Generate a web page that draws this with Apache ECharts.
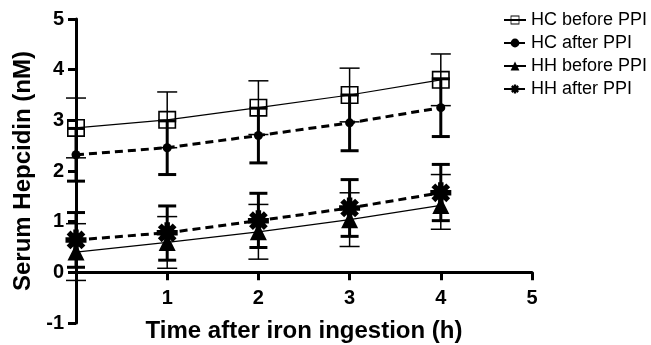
<!DOCTYPE html>
<html>
<head>
<meta charset="utf-8">
<script src="https://cdn.jsdelivr.net/npm/echarts@6/dist/echarts.min.js"></script>
<style>
  html, body { margin: 0; padding: 0; background: #fff; }
  #chart { width: 651px; height: 345px; }
</style>
</head>
<body>
<div id="chart"></div>
<script>
// Time points (h)
const times = [0, 1, 2, 3, 4];

// Serum hepcidin (nM): mean and error bar ends
const hcBefore = [2.85, 3.01, 3.25, 3.50, 3.80];
const hcBeforeLow = [2.26, 2.46, 2.72, 2.97, 3.29];
const hcBeforeHigh = [3.44, 3.56, 3.78, 4.03, 4.31];

const hcAfter = [2.32, 2.46, 2.70, 2.95, 3.25];
const hcAfterLow = [1.80, 1.93, 2.16, 2.40, 2.68];
const hcAfterHigh = [2.84, 2.99, 3.24, 3.50, 3.82];

const hhBefore = [0.40, 0.59, 0.80, 1.04, 1.32];
const hhBeforeLow = [-0.16, 0.08, 0.26, 0.51, 0.85];
const hhBeforeHigh = [0.96, 1.10, 1.34, 1.57, 1.93];

const hhAfter = [0.64, 0.78, 1.02, 1.27, 1.57];
const hhAfterLow = [0.10, 0.24, 0.49, 0.71, 1.02];
const hhAfterHigh = [1.18, 1.31, 1.56, 1.83, 2.13];

const seriesNames = ['HC before PPI', 'HC after PPI', 'HH before PPI', 'HH after PPI'];

const font = '"Liberation Sans", Arial, sans-serif';

// open square outline (hole via reversed winding)
const squareIcon = 'path://M0,0 L18,0 L18,18 L0,18 Z M1.6,1.6 L1.6,16.4 L16.4,16.4 L16.4,1.6 Z';
// 8-armed asterisk
const starIcon = 'path://M-10,-2.6 L10,-2.6 L10,2.6 L-10,2.6 Z ' +
  'M-2.6,-10 L2.6,-10 L2.6,10 L-2.6,10 Z ' +
  'M-5.23,-8.91 L8.91,5.23 L5.23,8.91 L-8.91,-5.23 Z ' +
  'M-8.91,5.23 L5.23,-8.91 L8.91,-5.23 L-5.23,8.91 Z';

function pairs(ys) {
  return times.map((t, i) => [t, ys[i]]);
}

function errData(lo, hi) {
  return times.map((t, i) => [t, lo[i], hi[i]]);
}

function errorBars(lo, hi, width, capW) {
  return {
    type: 'custom',
    clip: false,
    z: 3,
    silent: true,
    data: errData(lo, hi),
    encode: { x: 0, y: [1, 2] },
    renderItem: function (params, api) {
      const x = api.value(0);
      const a = api.coord([x, api.value(1)]);
      const b = api.coord([x, api.value(2)]);
      const hw = capW / 2;
      const style = { stroke: '#000', lineWidth: width };
      return {
        type: 'group',
        children: [
          { type: 'line', shape: { x1: a[0], y1: a[1], x2: b[0], y2: b[1] }, style: style },
          { type: 'line', shape: { x1: a[0] - hw, y1: a[1], x2: a[0] + hw, y2: a[1] }, style: style },
          { type: 'line', shape: { x1: b[0] - hw, y1: b[1], x2: b[0] + hw, y2: b[1] }, style: style }
        ]
      };
    }
  };
}

const chart = echarts.init(document.getElementById('chart'));

const option = {
  animation: false,
  backgroundColor: '#fff',
  grid: { left: 76, right: 119, top: 19, bottom: 22, outerBoundsMode: 'none', containLabel: false },
  legend: {
    data: seriesNames,
    orient: 'vertical',
    left: 498,
    top: 6,
    itemWidth: 22,
    itemHeight: 11,
    itemGap: 5,
    textStyle: { fontFamily: font, fontSize: 18, color: '#000' }
  },
  xAxis: {
    type: 'value',
    min: 0,
    max: 5,
    interval: 1,
    name: 'Time after iron ingestion (h)',
    nameLocation: 'middle',
    nameGap: -4,
    nameTextStyle: { fontFamily: font, fontSize: 24, fontWeight: 'bold', color: '#000' },
    splitLine: { show: false },
    axisLine: { onZero: true, lineStyle: { color: '#000', width: 3 } },
    axisTick: { show: true, length: 8, lineStyle: { color: '#000', width: 3 } },
    axisLabel: {
      margin: -35,
      fontFamily: font,
      fontSize: 20,
      fontWeight: 'bold',
      color: '#000',
      formatter: v => (v === 0 ? '' : v)
    }
  },
  yAxis: {
    type: 'value',
    min: -1,
    max: 5,
    interval: 1,
    name: 'Serum Hepcidin (nM)',
    nameLocation: 'middle',
    nameGap: 40,
    nameTextStyle: { fontFamily: font, fontSize: 24, fontWeight: 'bold', color: '#000' },
    splitLine: { show: false },
    axisLine: { show: true, lineStyle: { color: '#000', width: 3 } },
    axisTick: { show: true, length: 8, lineStyle: { color: '#000', width: 3 } },
    axisLabel: { margin: 12, fontFamily: font, fontSize: 20, fontWeight: 'bold', color: '#000' }
  },
  series: [
    errorBars(hcBeforeLow, hcBeforeHigh, 1.5, 20),
    errorBars(hcAfterLow, hcAfterHigh, 3, 18),
    errorBars(hhBeforeLow, hhBeforeHigh, 1.5, 20),
    errorBars(hhAfterLow, hhAfterHigh, 3, 18),
    {
      name: seriesNames[0],
      type: 'line',
      clip: false,
      z: 4,
      data: pairs(hcBefore),
      symbol: squareIcon,
      symbolSize: 18,
      itemStyle: { color: '#000' },
      lineStyle: { color: '#000', width: 1.2 }
    },
    {
      name: seriesNames[1],
      type: 'line',
      clip: false,
      z: 4,
      data: pairs(hcAfter),
      symbol: 'circle',
      symbolSize: 9,
      itemStyle: { color: '#000' },
      lineStyle: { color: '#000', width: 3, type: [8, 5] }
    },
    {
      name: seriesNames[2],
      type: 'line',
      clip: false,
      z: 4,
      data: pairs(hhBefore),
      symbol: 'triangle',
      symbolSize: [17, 17],
      itemStyle: { color: '#000' },
      lineStyle: { color: '#000', width: 1.2 }
    },
    {
      name: seriesNames[3],
      type: 'line',
      clip: false,
      z: 4,
      data: pairs(hhAfter),
      symbol: starIcon,
      symbolSize: 21,
      itemStyle: { color: '#000' },
      lineStyle: { color: '#000', width: 3, type: [8, 5] }
    }
  ]
};

chart.setOption(option);
</script>
</body>
</html>
